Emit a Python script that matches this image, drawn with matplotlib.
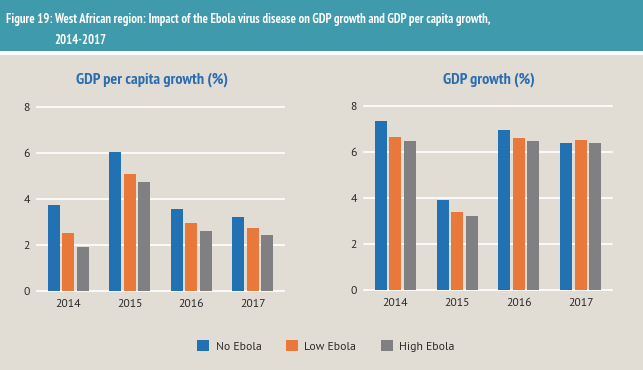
import matplotlib.pyplot as plt
import numpy as np
from matplotlib.patches import Rectangle

# Data
years = ['2014', '2015', '2016', '2017']
series = ['No Ebola', 'Low Ebola', 'High Ebola']
gdp_pc_no = [3.73, 6.05, 3.55, 3.22]
gdp_pc_low = [2.52, 5.07, 2.94, 2.74]
gdp_pc_high = [1.90, 4.73, 2.60, 2.44]
gdp_no = [7.34, 3.91, 6.96, 6.40]
gdp_low = [6.65, 3.39, 6.63, 6.52]
gdp_high = [6.48, 3.22, 6.48, 6.40]
yticks = [0, 2, 4, 6, 8]

colors = ['#2271b3', '#e8793a', '#808083']
bg = '#e2ddd4'
teal = '#3f9aab'
title_blue = '#2a6db0'
narrow = ['PT Sans Narrow', 'DejaVu Sans']
body = ['PT Sans', 'DejaVu Sans']

W, H = 643, 370
fig = plt.figure(figsize=(W / 100, H / 100), dpi=100, facecolor=bg)
renderer = fig.canvas.get_renderer()


def fit(txt, width_px):
    # scale a text so it spans the same width as in the reference
    w = txt.get_window_extent(renderer).width
    txt.set_fontsize(txt.get_fontsize() * width_px / w)


# Header band
fig.patches.append(Rectangle((0, 1 - 51 / H), 1, 51 / H, transform=fig.transFigure,
                             facecolor=teal, edgecolor='none', zorder=0))
fig.patches.append(Rectangle((0, 1 - 55 / H), 1, 4 / H, transform=fig.transFigure,
                             facecolor='white', edgecolor='none', zorder=0))
head = fig.text(6 / W, 1 - 20 / H, 'Figure 19: West African region: Impact of the Ebola virus disease on GDP growth and GDP per capita growth,',
                color='white', fontsize=10, fontweight='bold', family=narrow, va='center', ha='left')
fit(head, 486)
fig.text(54 / W, 1 - 40 / H, '2014-2017', color='white', fontsize=head.get_fontsize(),
         fontweight='bold', family=narrow, va='center', ha='left')


def panel(rect, values, title, title_x):
    ax = fig.add_axes(rect)
    ax.set_facecolor(bg)
    x = np.arange(len(years))
    step = 0.233
    for i, vals in enumerate(values):
        ax.bar(x + (i - 1) * step, vals, width=0.195, color=colors[i], zorder=3)
    ax.set_xlim(-0.51, 3.51)
    ax.set_ylim(0, 8)
    ax.set_yticks(yticks)
    ax.set_xticks(x)
    ax.set_xticklabels(years)
    ax.tick_params(length=0, labelsize=8.5, labelcolor='#2b2b2b', pad=6)
    ax.tick_params(axis='y', pad=5)
    for lab in ax.get_xticklabels() + ax.get_yticklabels():
        lab.set_family(body)
    for s in ax.spines.values():
        s.set_visible(False)
    ax.yaxis.grid(True, color='white', linewidth=1.2, zorder=0)
    for gl in ax.get_ygridlines():
        gl.set_clip_on(False)
    t = fig.text(title_x / W, 1 - 80 / H, title, color=title_blue, fontsize=11,
                 fontweight='bold', family=narrow, ha='center', va='center')
    return ax, t


_, t1 = panel([37 / W, 1 - 290.7 / H, 247 / W, 184 / H],
              [gdp_pc_no, gdp_pc_low, gdp_pc_high], 'GDP per capita growth (%)', 152)
_, t2 = panel([364 / W, 1 - 290 / H, 248 / W, 184 / H],
              [gdp_no, gdp_low, gdp_high], 'GDP growth (%)', 489)
fit(t1, 151)
t2.set_fontsize(t1.get_fontsize())

# Legend
handles = [Rectangle((0, 0), 1, 1, facecolor=c, edgecolor='none') for c in colors]
leg = fig.legend(handles, series, loc='center', bbox_to_anchor=(326 / W, 1 - 346 / H),
                 ncol=3, frameon=False, handlelength=1.0, handleheight=1.0,
                 columnspacing=2.1, handletextpad=0.55, prop={'family': body, 'size': 8.5})
for t in leg.get_texts():
    t.set_color('#2b2b2b')

fig.savefig('out.png', dpi=100, facecolor=bg)
